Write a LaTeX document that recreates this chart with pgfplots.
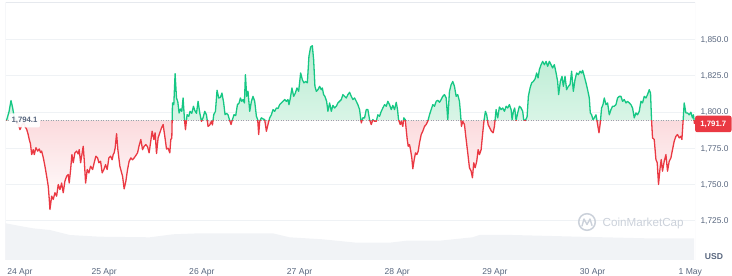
\documentclass[border=0pt]{standalone}
\usepackage{pgfplots}
\pgfplotsset{compat=1.18}
\usepackage{pgfplotstable}
\usepackage{fontspec}
\setmainfont{Liberation Sans}
\definecolor{cmcgreen}{HTML}{16C784}
\definecolor{cmcred}{HTML}{EA3943}
\definecolor{labgray}{HTML}{58667E}
\definecolor{gridc}{HTML}{EFF2F5}
\definecolor{volc}{HTML}{F1F3F6}
\definecolor{wm}{HTML}{CBD1DA}
\definecolor{greentop}{RGB}{185,236,210}
\definecolor{redtop}{RGB}{248,188,193}
\definecolor{dotc}{HTML}{9AA2AD}
\definecolor{borderc}{HTML}{E6E9EE}
% t = horizontal position (px of the original chart), p = price in USD
\pgfplotstableread{
t p
6.5 1794.1
9 1800
11 1807.8
12.7 1802.7
14 1797
16 1794
18 1792
20 1787.8
22 1791
24 1792.5
25 1790
26.7 1788
28 1785
29.3 1781
30.5 1778
31.7 1770.6
33.3 1774
34.3 1770.6
36 1775.4
37.7 1773
39.3 1774.5
40.5 1772
41.7 1773
43.3 1768.6
45 1762.6
46.7 1755.7
48.3 1748.8
49.3 1740
50 1732.8
51 1738
51.7 1742
53.3 1739.7
55 1744.3
56.7 1742
58.3 1750
60 1746.5
61.7 1751
63.3 1744.3
65 1752.3
66.7 1755.7
68.3 1756.9
69.3 1751
70.7 1760.3
72 1770.6
73.3 1765
75 1771.8
76.7 1773
78.3 1771
79.3 1774
80.7 1765
82 1770.6
83.3 1776.3
84.3 1767.2
85.7 1751
87.3 1760.3
89 1758
90.7 1762.6
92.7 1760.3
94.3 1765
96 1769.5
97.7 1768.3
99 1765
100.7 1766
102.3 1758
104 1760.3
105.7 1763.7
107.3 1760.3
109 1768.3
110.7 1769.5
112.3 1767
113.3 1770.6
114.3 1771.8
115.3 1775.2
116.7 1785
118 1774
120 1762.6
122.7 1755.7
124.3 1747
126 1752.3
127.7 1760.3
129.3 1766
131 1768.3
132.7 1767
134.3 1768.3
136 1770
137.7 1771.8
139.3 1776.8
141 1781
142.7 1774
144.3 1776.3
146 1777.5
147.7 1776
149.3 1771.8
150.7 1778.7
152.3 1786.7
154 1781
155.3 1785.6
156.7 1771.3
158.3 1782.1
160 1785.6
161.7 1789
163.3 1791.3
165 1783.2
166.7 1774.5
168.3 1775
170 1771.8
171 1781
172 1782
172.7 1806.2
174 1805
175.3 1826.3
176.7 1809.6
178 1807
179.3 1799.3
180.7 1802
182 1800.4
183.3 1809.6
184.7 1794.7
185.7 1787.8
187.3 1798.1
189 1797
190.3 1800.4
192 1799
193.7 1803.9
195 1801
196.7 1799
198.3 1807.3
200 1799.3
201.7 1793.5
203.3 1796
205 1800.4
206.7 1798
208.3 1790
210 1791
211.7 1793.5
212.7 1791
214 1798.1
215.7 1800.4
217.3 1814.9
219 1809.6
220.7 1810
222.2 1813
223.9 1806.5
225.3 1798.1
226.7 1799
228.3 1798
229.7 1794.7
231.3 1791.3
232.7 1794.7
234.3 1798.1
236 1797.5
237.7 1805
239.3 1806
240.7 1809.6
242 1807.3
243.3 1808.5
244.7 1806.2
245.7 1825.6
247 1810.7
248.3 1814.2
250 1800.4
251.7 1807.3
253.3 1810.7
255 1807.3
256.7 1797
258 1794.7
259 1784.4
260 1793.5
261.7 1795.9
263.3 1795.2
265 1794.7
266.7 1786.7
268.3 1791.3
270 1795.9
271.7 1798
273.3 1801.6
275 1800.4
276.7 1802.7
278.3 1802.3
280 1805
281.7 1806.2
283.3 1807.3
285 1808.5
286.7 1807.3
288.3 1808.5
289.3 1805
290.7 1809.6
292.3 1816.5
294 1810.7
295.7 1813
297.3 1816.5
299 1814.2
301 1826.8
302.7 1822.2
304.3 1820
306 1821
307.7 1820
309.3 1838.3
311 1844.7
312.7 1845.6
314 1836
315.3 1817.6
316.7 1814.2
318.3 1815.3
320 1817.6
321.7 1815.3
322.7 1816.5
324 1811.9
325.3 1810.7
327 1807.3
328.3 1800.4
330 1806.2
331.7 1800.4
333.3 1804.5
335 1802.7
336.7 1803.9
338.3 1806.2
340 1807.3
341.7 1808.5
343.3 1811.9
345 1810.7
346.7 1809.6
348.3 1811.9
350 1813.5
351.7 1810.7
353.3 1808.5
355 1809.6
356.7 1807.3
358.3 1805
360 1801.6
361.7 1792.4
363.3 1795.9
365 1795.9
366.7 1801.6
368.3 1801.6
370 1794.7
371.7 1791.3
373.3 1794.7
375 1793.5
376.7 1793.5
378.3 1798
380 1797
381.7 1800.4
383.3 1802.7
385 1805
386.7 1803.9
388.3 1807.3
390 1805
391.7 1801.6
393.3 1804.5
395 1801.6
396.7 1806.6
398 1801.6
399 1794.7
400.7 1791.3
401.7 1793.5
403.3 1790
404.3 1795.9
405.7 1794.7
406.7 1787.8
407.7 1781
408.7 1776.3
410 1777.5
411 1774
412.3 1768.3
413.3 1760.8
414.7 1767.2
416 1771.8
417.3 1770.6
418.7 1773
420 1778.7
421.7 1784.4
423.3 1786.7
425 1790
426.7 1791.3
428.3 1793.5
430 1798
431.7 1801.6
433.3 1805
435 1803.9
436.7 1807.3
438.3 1808
440 1806.6
441.7 1808.5
443.3 1810.7
445 1811.9
446.7 1809.6
448.3 1794.7
450 1814.2
451.7 1818.8
453.3 1821
455 1817.6
456.7 1810.7
458.3 1811.9
460 1807.3
461 1799.3
462 1790
463.3 1793.5
465 1791.3
466.7 1781
468.3 1771.8
470 1761.5
471.7 1759.2
473 1754.6
474.3 1765
475.7 1761.5
477.3 1766
478.7 1774
480 1770.6
481.7 1774
483.3 1785.6
484.7 1794.7
486 1800.4
487.3 1798
488.7 1791.3
490.3 1789
492 1786.7
493.7 1785.6
495 1790
496.7 1801.6
498.3 1795.9
500 1803.4
501.7 1801.6
503.3 1802.7
505 1800.4
506.7 1803.9
508.3 1802.7
510 1805
511.7 1801.6
512.7 1794.7
514 1800.4
515.3 1802.7
516.7 1794.1
518.3 1799.3
520 1803.9
521.7 1802.7
523.3 1800.4
524.3 1794.7
526 1794.1
527.7 1796.6
529 1810.7
530.7 1816.5
532.3 1820
534 1821
535.7 1822.7
537.3 1826.8
538.7 1823.4
540 1829.1
541.7 1832.5
543.3 1834.8
545 1832.5
546.7 1834.8
548.3 1831.4
550 1834.8
551.7 1832.5
553.3 1830.3
555 1832.5
556.7 1827
558.3 1821
559.3 1811.9
561 1821
562.7 1824.5
564 1817.6
565.7 1824.5
567.3 1815.3
569 1817.6
570.7 1818.8
572.3 1828
574 1814.2
575.7 1822.2
577.3 1826.8
579 1825.6
580.7 1828
582.3 1826.8
583.3 1828.6
585 1824.5
586.7 1820
588.3 1815.3
590 1809.6
591 1799.3
592.3 1798
593.7 1794.7
595 1795.9
596.7 1798
598.3 1791.3
599.7 1785.6
601 1792.4
602.3 1802.7
603.7 1805
605 1809.6
606.7 1805
608.3 1806.2
610 1798
611.7 1801.6
613.3 1803.9
615 1803.9
616.7 1805
618.3 1809.6
620 1810.7
621.7 1810.7
623.3 1807.3
625 1808.5
626.7 1806.2
628.3 1807.3
630 1806.2
631.7 1805
633.3 1802.7
635 1795.9
636.7 1799.3
638.3 1798
640 1800.4
641.7 1807.3
643.3 1806.2
645 1810.7
646.7 1809.6
648.3 1811.9
650 1815.3
651.3 1813
652.3 1794.7
653.3 1782.1
655 1781
656.7 1767.2
658 1765
659.3 1750
660.7 1760.3
662 1767.2
663.3 1759.2
665 1766
666.7 1770.6
668.3 1759.2
670 1766
671.7 1768.3
673.3 1774
675 1779.8
676.7 1783.2
678.3 1784.4
680 1782.1
681.7 1783.2
682.7 1781
684 1794.7
685 1806.2
686.7 1799.3
688.3 1799.3
690 1798
691.7 1799.8
693.3 1795.9
694.3 1798
695.3 1791.7
}\price
% relative trading volume (height of the volume band)
\pgfplotstableread{
t v
5.7 36.7
20 34
33 31.7
50 30
70 25
100 23.3
150 22.7
173 25.7
200 26.7
273 26.7
290 22.7
323 20.7
357 17.3
390 17.3
407 19.3
440 19.3
473 22.7
480 25
513 25
580 23.3
647 21.7
695 21.7
}\volume
\begin{document}
\begin{tikzpicture}
\useasboundingbox (0,0) rectangle (732bp,276bp);
\begin{axis}[at={(5.7bp,16bp)}, anchor=south west, scale only axis,
  width=689.3bp, height=258bp, xmin=-0.196, xmax=169.16, ymin=0, ymax=258, hide axis]
\addplot[fill=volc, draw=none] table[x expr=(\thisrow{t}-6.5)*0.2454, y=v] {\volume} \closedcycle;
\end{axis}
\begin{axis}[at={(5.7bp,16bp)}, anchor=south west, scale only axis,
  width=689.3bp, height=258bp, xmin=-0.196, xmax=169.16, ymin=1698, ymax=1875.7,
  axis line style={draw=none}, major tick length=0pt,
  ytick={1725,1750,1775,1800,1825,1850},
  ymajorgrids, grid style={gridc, line width=0.8bp},
  yticklabel pos=right,
  xtick={24,48,...,168},
  xticklabels={25 Apr,26 Apr,27 Apr,28 Apr,29 Apr,30 Apr,1 May},
  extra x ticks={3.3}, extra x tick labels={24 Apr},
  x tick label style={font=\fontsize{8.6}{10}\selectfont, text=labgray, yshift=-4.8bp},
  y tick label style={anchor=base west, yshift=-3bp, xshift=2bp,
    font=\fontsize{8.4}{10}\selectfont, text=labgray,
    /pgf/number format/.cd, fixed, fixed zerofill, precision=1, 1000 sep={,}, assume math mode=true},
]
\draw[borderc, line width=0.8bp] (rel axis cs:0,0) -- (rel axis cs:0,1) -- (rel axis cs:1,1) -- (rel axis cs:1,0);
% above the opening price
\begin{scope}
\clip (axis cs:-1,1794.1) rectangle (axis cs:170,1900);
\addplot[draw=none, top color=greentop, bottom color=white] table[x expr=(\thisrow{t}-6.5)*0.2454, y=p] {\price} -- (axis cs:169.16,1794.1);
\end{scope}
% below the opening price
\begin{scope}
\clip (axis cs:-1,1690) rectangle (axis cs:170,1794.1);
\addplot[draw=none, top color=redtop, bottom color=white] table[x expr=(\thisrow{t}-6.5)*0.2454, y=p] {\price} -- (axis cs:169.16,1794.1);
\end{scope}
\addplot[dotc, line width=0.8bp, dash pattern=on 0.8bp off 1.7bp] coordinates {(-0.196,1794.1) (169.16,1794.1)};
\begin{scope}
\clip (axis cs:-1,1794.1) rectangle (axis cs:170,1900);
\addplot[cmcgreen, line width=1.3bp, line join=round] table[x expr=(\thisrow{t}-6.5)*0.2454, y=p] {\price};
\end{scope}
\begin{scope}
\clip (axis cs:-1,1690) rectangle (axis cs:170,1794.1);
\addplot[cmcred, line width=1.3bp, line join=round] table[x expr=(\thisrow{t}-6.5)*0.2454, y=p] {\price};
\end{scope}
\coordinate (firstp) at (axis cs:4.42,1794.1);
\coordinate (lastp) at (axis cs:169.16,1791.7);
\end{axis}
% opening and last price labels
\node[fill=white, fill opacity=0.92, text opacity=1, rounded corners=2bp, minimum width=31bp, minimum height=14bp, inner sep=0pt,
  text=labgray, font=\bfseries\fontsize{7.8}{9}\selectfont] at (firstp) {1,794.1};
\node[fill=cmcred, rounded corners=2bp, minimum width=36.3bp, minimum height=16.5bp, inner sep=0pt, anchor=west,
  text=white, font=\bfseries\fontsize{7.8}{9}\selectfont] at (lastp) {1,791.7};
\node[anchor=base, text=labgray, font=\bfseries\fontsize{8.6}{10}\selectfont] at (714bp,17bp) {USD};
% watermark
\draw[wm, line width=1.5bp] (587bp,54bp) circle (8.3bp);
\draw[wm, line width=1.4bp, line join=round, line cap=round] (582bp,50bp) -- (584bp,57bp) -- (587bp,51.5bp) -- (590bp,57bp) -- (592bp,50.5bp);
\node[anchor=base west, inner sep=0pt, text=wm, font=\fontsize{11.7}{13}\selectfont] at (602.5bp,49.8bp) {CoinMarketCap};
\end{tikzpicture}
\end{document}
